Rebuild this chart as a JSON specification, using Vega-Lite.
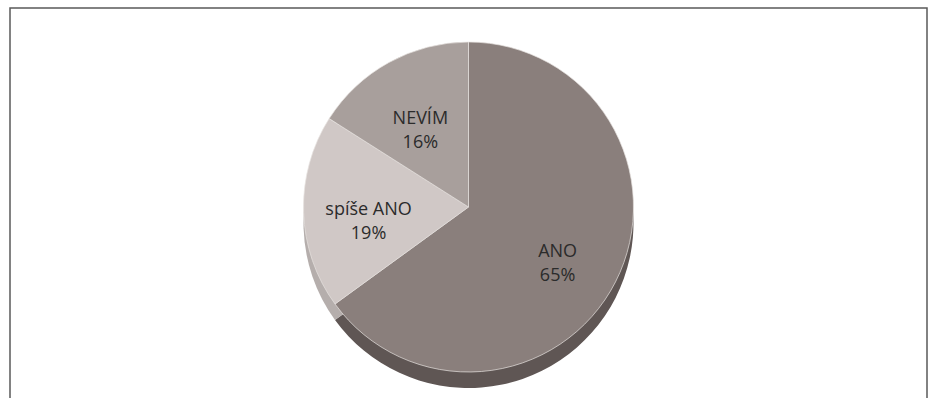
{
  "$schema": "https://vega.github.io/schema/vega-lite/v6.json",
  "width": 917,
  "height": 410,
  "padding": {"left": 10, "top": 8, "right": 8, "bottom": -20},
  "autosize": {"type": "none"},
  "background": "white",
  "config": {"view": {"stroke": null}},
  "layer": [
    {
      "data": {"values": [{"ramec": 1}]},
      "mark": {"type": "rect", "fill": null, "stroke": "#5a5a5a", "strokeWidth": 1.5},
      "encoding": {}
    },
    {
      "data": {"name": "podily"},
      "mark": {"type": "arc", "outerRadius": 165, "yOffset": 10},
      "encoding": {
        "theta": {"field": "podil", "type": "quantitative", "stack": true},
        "order": {"field": "poradi", "type": "quantitative"},
        "fill": {
          "field": "kategorie",
          "type": "nominal",
          "scale": {"domain": ["ANO", "spíše ANO", "NEVÍM"], "range": ["#5f5654", "#b5aeac", "#857c7a"]},
          "legend": null
        }
      }
    },
    {
      "data": {"name": "podily"},
      "mark": {"type": "arc", "outerRadius": 165, "yOffset": -6, "stroke": "#e6e2e0", "strokeWidth": 0.7},
      "encoding": {
        "theta": {"field": "podil", "type": "quantitative", "stack": true},
        "order": {"field": "poradi", "type": "quantitative"},
        "color": {
          "field": "kategorie",
          "type": "nominal",
          "scale": {"domain": ["ANO", "spíše ANO", "NEVÍM"], "range": ["#8a7f7c", "#d0c8c6", "#a89f9c"]},
          "legend": null
        }
      }
    },
    {
      "data": {"name": "podily"},
      "mark": {"type": "text", "radius": 100, "yOffset": -6, "fontSize": 18, "font": "Open Sans", "color": "#2b2b2b", "lineBreak": "\n", "lineHeight": 24, "align": "center", "baseline": "middle"},
      "encoding": {
        "theta": {"field": "podil", "type": "quantitative", "stack": true},
        "order": {"field": "poradi", "type": "quantitative"},
        "text": {"field": "popis"}
      }
    }
  ],
  "datasets": {
    "podily": [
      {"kategorie": "ANO", "podil": 65, "poradi": 1, "popis": "ANO\n65%"},
      {"kategorie": "spíše ANO", "podil": 19, "poradi": 2, "popis": "spíše ANO\n19%"},
      {"kategorie": "NEVÍM", "podil": 16, "poradi": 3, "popis": "NEVÍM\n16%"}
    ]
  }
}
